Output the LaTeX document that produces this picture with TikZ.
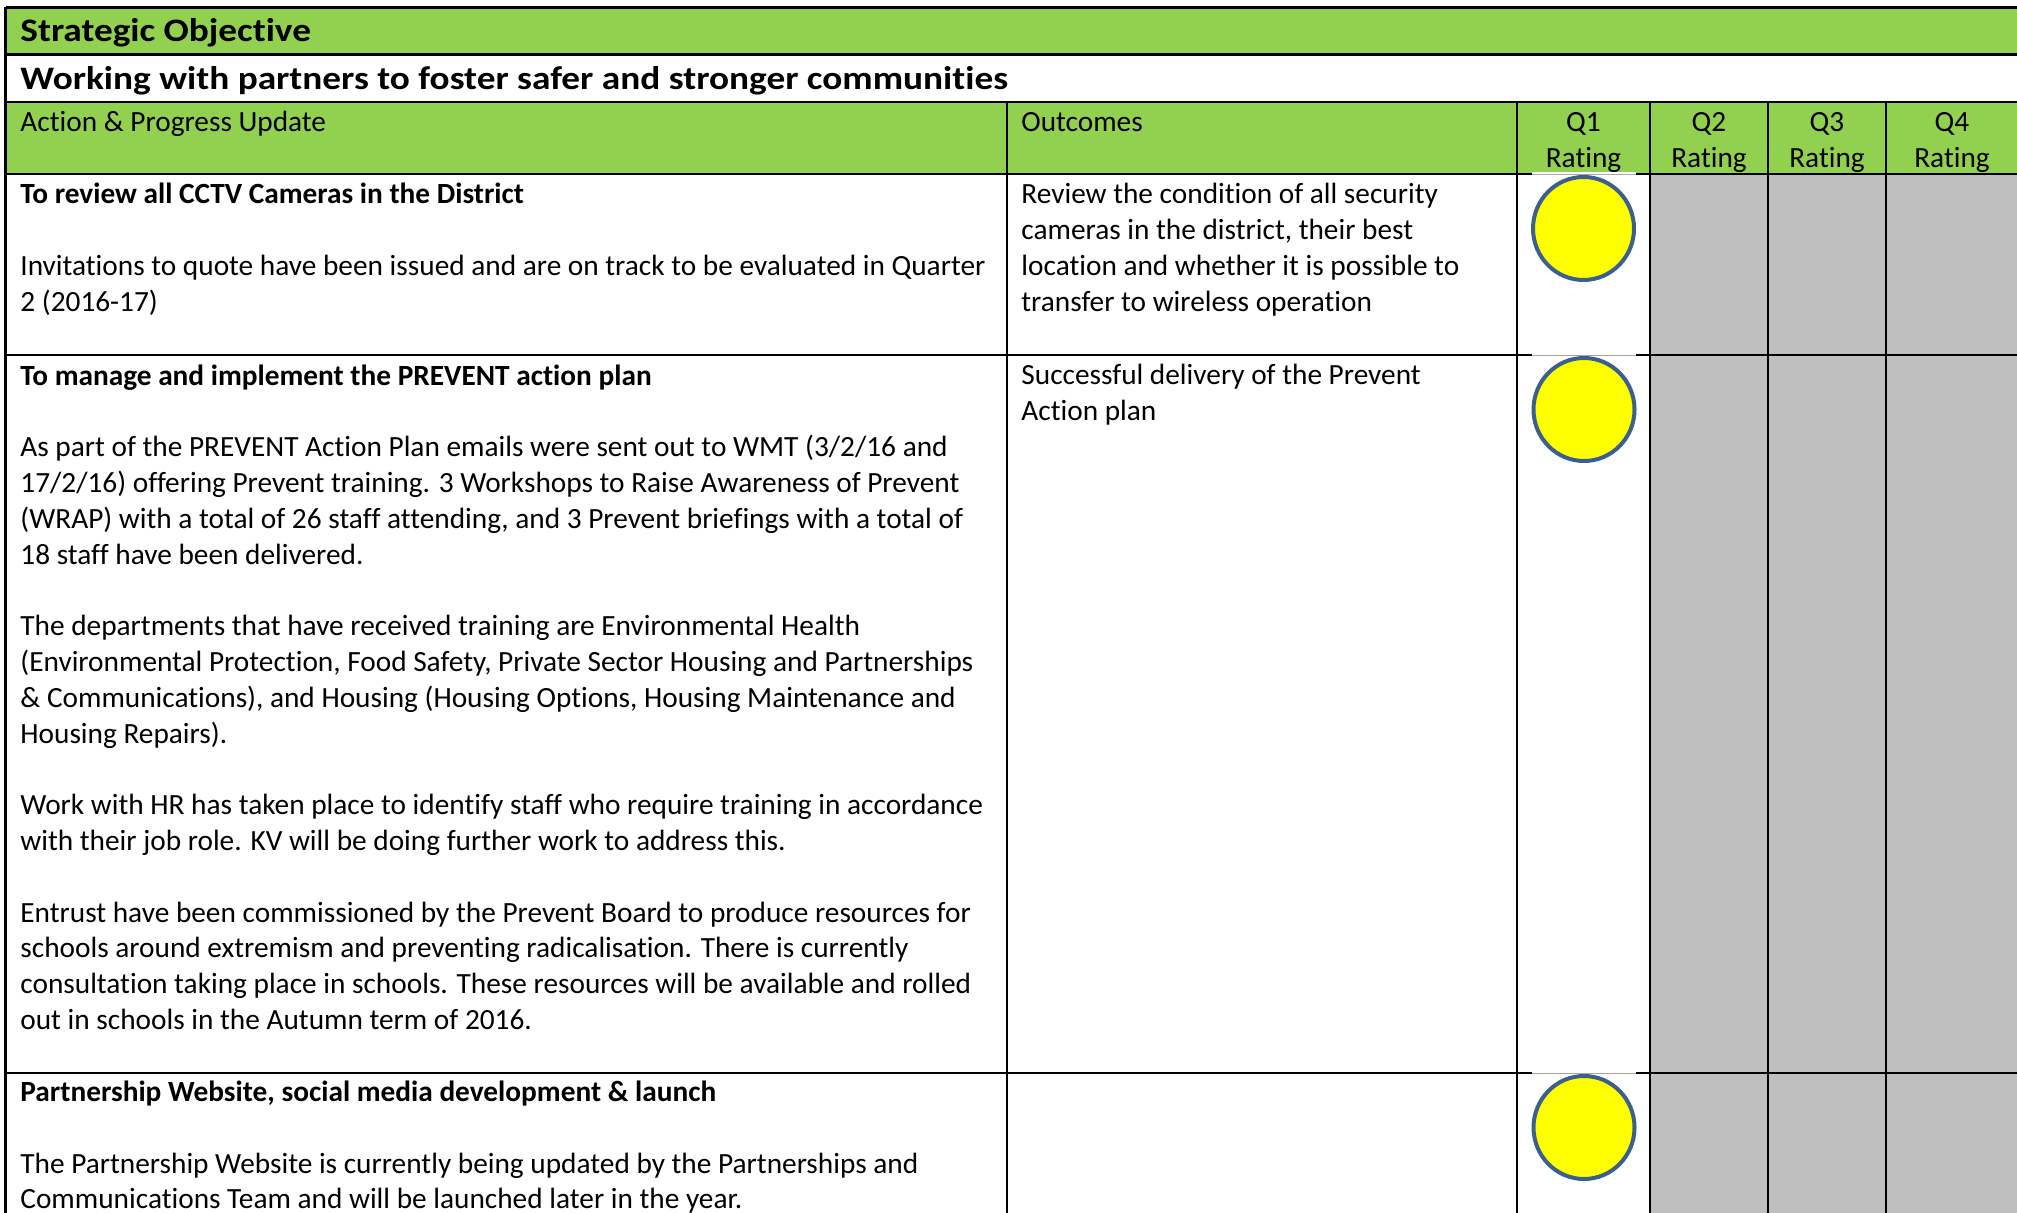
\documentclass[tikz,border=0pt]{standalone}
\usepackage{graphicx}
\usepackage{fontspec}
\setmainfont{Carlito}[Ligatures=CommonOff]
\usetikzlibrary{shapes.geometric}
\definecolor{hdrgreen}{HTML}{92D050}
\definecolor{cellgray}{HTML}{BFBFBF}
\definecolor{circblue}{HTML}{3B5F8E}
\definecolor{ratingyellow}{HTML}{FFFF00}
\begin{document}
\begin{tikzpicture}[x=0.5pt,y=-0.5pt,
  gridline/.style={line width=1.15pt, draw=black},
  % multi-line nodes: the base anchor is the baseline of the LAST line
  bodytxt/.style={inner sep=0pt, anchor=base west, align=left, font=\fontsize{14.66}{17.9}\selectfont},
  qtxt/.style={inner sep=0pt, anchor=base, align=center, font=\fontsize{14.66}{17.9}\selectfont},
  titletxt/.style={inner sep=0pt, anchor=base west, font=\fontsize{18.66}{22}\selectfont\bfseries},
  rating/.style={ellipse, draw=circblue, fill=ratingyellow, line width=2pt, minimum width=50.5pt, minimum height=51.5pt, inner sep=0pt},
  imgpatch/.style={fill=white, draw=none}]
\useasboundingbox (0,0) rectangle (2017,1213);
% fills
\fill[hdrgreen] (5.6,7.5) rectangle (2017,54.5);
\fill[hdrgreen] (5.6,102) rectangle (2017,174);
\fill[cellgray] (1650,174) rectangle (2017,1213);
% grid lines
\draw[gridline] (5.6,7.5) -- (2017,7.5);
\draw[gridline] (5.6,54.5) -- (2017,54.5);
\draw[gridline] (5.6,102) -- (2017,102);
\draw[gridline] (5.6,174) -- (2017,174);
\draw[gridline] (5.6,355) -- (2017,355);
\draw[gridline] (5.6,1073) -- (2017,1073);
\draw[gridline] (5.6,6.9) -- (5.6,1213);
\draw[gridline] (1007,102) -- (1007,1213);
\draw[gridline] (1517,102) -- (1517,1213);
\draw[gridline] (1650,102) -- (1650,1213);
\draw[gridline] (1768,102) -- (1768,1213);
\draw[gridline] (1886,102) -- (1886,1213);
% white image backgrounds covering the lines above the ratings
\foreach \yy in {174,355,1073} {
  \fill[imgpatch] (1532,\yy-1.6) rectangle (1636,\yy+1.6);
  \draw[gray!70, line width=0.5pt] (1532,\yy+0.6) -- (1636,\yy+0.6);
}
% ratings
\node[rating] (r1) at (1583.5,228.5) {};
\node[rating] (r2) at (1584,409.5) {};
\node[rating] (r3) at (1584,1127.5) {};
% headers
\node[titletxt] (so) at (20,41.5) {\scalebox{1}[0.88]{Strategic Objective}};
\node[titletxt] (wp) at (20,89.5) {\scalebox{1}[0.88]{Working with partners to foster safer and stronger communities}};
\node[bodytxt] (hact) at (20,131.5) {Action \& Progress Update};
\node[bodytxt] (hout) at (1021,131.5) {Outcomes};
\node[qtxt] (hq1) at (1583.5,167.3) {Q1\\Rating};
\node[qtxt] (hq2) at (1709,167.3) {Q2\\Rating};
\node[qtxt] (hq3) at (1827,167.3) {Q3\\Rating};
\node[qtxt] (hq4) at (1952,167.3) {Q4\\Rating};
% row 1 (first baseline 204)
\node[bodytxt] (a1) at (20,{204+3*35.8}) {\textbf{To review all CCTV Cameras in the District}\\
\mbox{}\\
Invitations to quote have been issued and are on track to be evaluated in Quarter\\
2 (2016-17)};
\node[bodytxt] (o1) at (1021,{204+3*35.8}) {Review the condition of all security\\
cameras in the district, their best\\
location and whether it is possible to\\
transfer to wireless operation};
% row 2 (first baseline 385)
\node[bodytxt] (a2) at (20,{385+18*35.8}) {\textbf{To manage and implement the PREVENT action plan}\\
\mbox{}\\
As part of the PREVENT Action Plan emails were sent out to WMT (3/2/16 and\\
17/2/16) offering Prevent training. 3 Workshops to Raise Awareness of Prevent\\
(WRAP) with a total of 26 staff attending, and 3 Prevent briefings with a total of\\
18 staff have been delivered.\\
\mbox{}\\
The departments that have received training are Environmental Health\\
(Environmental Protection, Food Safety, Private Sector Housing and Partnerships\\
\& Communications), and Housing (Housing Options, Housing Maintenance and\\
Housing Repairs).\\
\mbox{}\\
Work with HR has taken place to identify staff who require training in accordance\\
with their job role. KV will be doing further work to address this.\\
\mbox{}\\
Entrust have been commissioned by the Prevent Board to produce resources for\\
schools around extremism and preventing radicalisation. There is currently\\
consultation taking place in schools. These resources will be available and rolled\\
out in schools in the Autumn term of 2016.};
\node[bodytxt] (o2) at (1021,{385+35.8}) {Successful delivery of the Prevent\\
Action plan};
% row 3 (first baseline 1102)
\node[bodytxt] (a3) at (20,{1101.5+3*35.8}) {\textbf{Partnership Website, social media development \& launch}\\
\mbox{}\\
The Partnership Website is currently being updated by the Partnerships and\\
Communications Team and will be launched later in the year.};
\end{tikzpicture}
\end{document}
